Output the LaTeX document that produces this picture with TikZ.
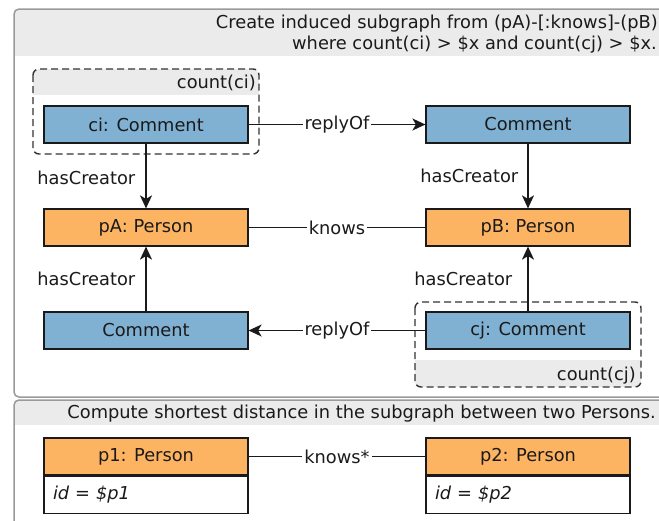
\documentclass[tikz,border=0pt]{standalone}
\usepackage{fontspec}
\setmainfont{DejaVu Sans}
\usetikzlibrary{arrows.meta}
\definecolor{cblue}{HTML}{80B1D3}
\definecolor{corange}{HTML}{FDB462}
\definecolor{band}{HTML}{EBEBEB}
\definecolor{frame}{HTML}{9A9A9A}
\definecolor{ink}{HTML}{1A1A1A}
\definecolor{dashink}{HTML}{333333}
\tikzset{
  ent/.style={draw=ink, line width=1.2pt, minimum width=204pt, minimum height=37pt, inner sep=0pt, text=ink},
  bluebox/.style={ent, fill=cblue},
  orangebox/.style={ent, fill=corange},
  attrbox/.style={draw=ink, line width=1.2pt, fill=white, text width=186pt, inner xsep=9pt, minimum height=37pt, inner ysep=0pt, align=left, text=ink, font=\itshape},
  conn/.style={line width=1.5pt, draw=ink},
  arr/.style={conn, -{Stealth[length=13pt, width=12pt, inset=3.5pt]}},
  lbl/.style={fill=white, inner sep=2pt, text=ink},
  sidelbl/.style={anchor=east, inner sep=0pt, text=ink},
  txt/.style={inner sep=0pt, text=ink},
  outer/.style={draw=frame, line width=1.5pt, rounded corners=5pt},
  grp/.style={draw=dashink, line width=1.4pt, dash pattern=on 7pt off 4pt, rounded corners=6pt},
}
\begin{document}
\begin{tikzpicture}[x=1pt, y=-1pt]
\fontsize{17.8}{21}\selectfont
\useasboundingbox (0,0) rectangle (659,520);
\clip (0,0) rectangle (659,520);
% outer box 1
\begin{scope}
  \clip[rounded corners=5pt] (14,9) rectangle (680,397);
  \fill[band] (14,9) rectangle (680,56);
\end{scope}
\draw[outer] (14,9) rectangle (680,397);
\node[txt, anchor=base east] (hdr1a) at (658,28) {Create induced subgraph from (pA)-[:knows]-(pB)};
\node[txt, anchor=base east] (hdr1b) at (657,49) {where count(ci) > \$x and count(cj) > \$x.};
% outer box 2
\begin{scope}
  \clip[rounded corners=5pt] (14,400) rectangle (680,560);
  \fill[band] (14,400) rectangle (680,425);
\end{scope}
\draw[outer] (14,400) rectangle (680,560);
\node[txt, anchor=base east] (hdr2) at (656,418) {Compute shortest distance in the subgraph between two Persons.};
% group ci
\begin{scope}
  \clip[rounded corners=6pt] (33,69) rectangle (259,154);
  \fill[band] (33,69) rectangle (259,95);
\end{scope}
\draw[grp] (33,69) rectangle (259,154);
\node[txt, anchor=base east] (gci) at (256,88) {count(ci)};
% group cj
\begin{scope}
  \clip[rounded corners=6pt] (415,302) rectangle (641,387);
  \fill[band] (415,360) rectangle (641,387);
\end{scope}
\draw[grp] (415,302) rectangle (641,387);
\node[txt, anchor=base east] (gcj) at (636,380) {count(cj)};
% entities
\node[bluebox] (ci) at (146,124.5) {ci: Comment};
\node[bluebox] (cm1) at (528,124.5) {Comment};
\node[orangebox] (pA) at (146,227.5) {pA: Person};
\node[orangebox] (pB) at (528,227.5) {pB: Person};
\node[bluebox] (cm2) at (146,330.5) {Comment};
\node[bluebox] (cj) at (528,330.5) {cj: Comment};
\node[orangebox] (p1) at (146,456.5) {p1: Person};
\node[attrbox, anchor=north] (p1a) at (p1.south) {id = \$p1};
\node[orangebox] (p2) at (528,456.5) {p2: Person};
\node[attrbox, anchor=north] (p2a) at (p2.south) {id = \$p2};
% connectors
\draw[arr] (ci) -- node[lbl] {replyOf} (cm1);
\draw[arr] (cj) -- node[lbl] {replyOf} (cm2);
\draw[conn] (pA) -- node[lbl] {knows} (pB);
\draw[conn] (p1) -- node[lbl] {knows*} (p2);
\draw[arr] (ci) -- node[sidelbl, xshift=-10pt, yshift=-2pt] {hasCreator} (pA);
\draw[arr] (cm1) -- node[sidelbl, xshift=-9pt] {hasCreator} (pB);
\draw[arr] (cm2) -- node[sidelbl, xshift=-10pt] {hasCreator} (pA);
\draw[arr] (cj) -- node[sidelbl, xshift=-15pt] {hasCreator} (pB);
\end{tikzpicture}
\end{document}
